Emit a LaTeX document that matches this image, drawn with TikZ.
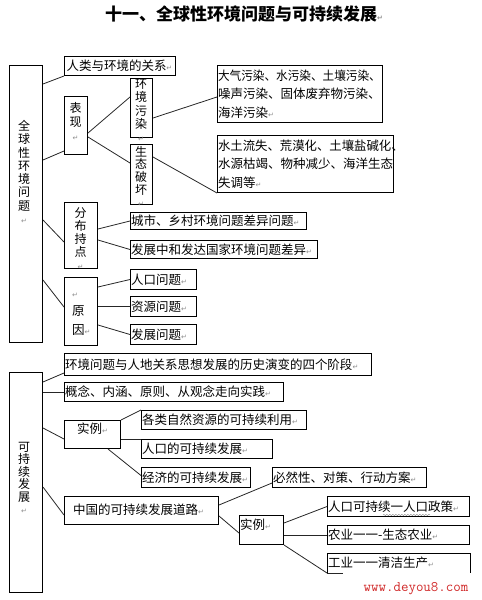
\documentclass[tikz,border=0pt]{standalone}
\usepackage{fontspec}
\usepackage{graphicx}
\setmainfont{Noto Sans CJK SC}
\newfontfamily\symf{DejaVu Sans}
\usetikzlibrary{decorations.pathmorphing}
\definecolor{wmred}{RGB}{208,40,40}
\newcommand\rt{{\symf\fontsize{7}{7}\selectfont\color{black!45}↵}}
\tikzset{
  hb/.style={draw, line width=1pt, anchor=north west, inner xsep=0.5pt, inner ysep=0pt,
    align=left, font=\fontsize{12.5}{18.5}\selectfont},
  eb/.style={draw, line width=1pt, anchor=north west, inner sep=0pt},
  vt/.style={anchor=north, inner sep=0pt, align=center, font=\fontsize{12}{13.3}\selectfont},
  tx/.style={inner sep=0pt, font=\fontsize{12.5}{18.5}\selectfont},
  ln/.style={line width=0.8pt, black!85},
}
\begin{document}
\begin{tikzpicture}[x=1pt,y=-1pt]
\useasboundingbox (0,0) rectangle (482,600);
% title
\node[anchor=west, inner sep=0pt, font=\bfseries\fontsize{17}{17}\selectfont] (title) at (105,14) {十一、全球性环境问题与可持续发展\rt};

% ---------- part 1 ----------
\node[eb, minimum width=33pt, minimum height=277pt] (G) at (9,65) {};
\node[vt] (Gt) at (24,120) {全\\球\\性\\环\\境\\问\\题\\\rt};

\node[hb, inner xsep=2pt, text width=107pt, minimum height=19pt] (rl) at (64,56) {人类与环境的关系\rt};

\node[eb, minimum width=23pt, minimum height=58pt] (bxian) at (64,96) {};
\node[vt, font=\fontsize{12}{14}\selectfont] (bxt) at (75.5,102) {表\\现\\\rt};

\node[eb, minimum width=22pt, minimum height=59pt] (hj) at (130,78) {};
\node[vt] (hjt) at (141,79) {环\\境\\污\\染\\\rt};
\node[eb, minimum width=22pt, minimum height=60pt] (st) at (130,144) {};
\node[vt, font=\fontsize{12}{12.6}\selectfont] (stt) at (141,146) {生\\态\\破\\坏\\\rt};

\node[hb, text width=164pt, minimum height=57pt] (dq) at (217,65)
  {\scalebox{0.93}[1]{大气污染、水污染、土壤污染、}\\噪声污染、固体废弃物污染、\\海洋污染\rt};
\node[hb, text width=175pt, minimum height=57pt] (sl) at (217,135)
  {\scalebox{0.99}[1]{水土流失、荒漠化、土壤盐碱化、}\\水源枯竭、物种减少、海洋生态\\失调等\rt};

\node[eb, minimum width=33pt, minimum height=66pt] (fb) at (64,202) {};
\node[vt, font=\fontsize{12}{13}\selectfont] (fbt) at (80.5,207) {分\\布\\持\\点\\\rt};
\node[hb, text width=175pt, minimum height=17pt] (cs) at (130,212) {城市、乡村环境问题差异问题\rt};
\node[hb, text width=186pt, minimum height=18pt] (fz) at (130,240) {发展中和发达国家环境问题差异\rt};

\node[eb, minimum width=33pt, minimum height=68pt] (yy) at (64,277) {};
\node[tx, anchor=north west, align=left] (yyt) at (72,287) {\rt\vphantom{原}\\原\\因\rt};
\node[hb, text width=65pt, minimum height=20pt] (rk) at (130,269) {人口问题\rt};
\node[hb, text width=65pt, minimum height=20pt] (zy) at (130,296) {资源问题\rt};
\node[hb, text width=65pt, minimum height=20pt] (fw) at (130,324) {发展问题\rt};

% ---------- part 2 ----------
\node[eb, minimum width=33pt, minimum height=220pt] (S) at (9,372) {};
\node[vt, font=\fontsize{12}{12.4}\selectfont] (St) at (24,442) {可\\持\\续\\发\\展\\\rt};

\node[hb, text width=306pt, minimum height=22pt] (ls) at (64,353) {环境问题与人地关系思想发展的历史演变的四个阶段\rt};
\node[hb, text width=218pt, minimum height=19pt] (gn) at (64,382) {概念、内涵、原则、从观念走向实践\rt};

\node[eb, minimum width=56pt, minimum height=28pt] (sli) at (64,420) {};
\node[tx, anchor=west] (slit) at (77,429) {实例\rt};
\node[hb, text width=164pt, minimum height=19pt] (gl) at (141,410) {各类自然资源的可持续利用\rt};
\node[hb, text width=130pt, minimum height=19pt] (rkk) at (141,439) {人口的可持续发展\rt};
\node[hb, text width=108pt, minimum height=20pt] (jj) at (141,467) {经济的可持续发展\rt};
\node[hb, text width=153pt, minimum height=20pt] (br) at (272,467) {必然性、对策、行动方案\rt};

\node[eb, minimum width=154pt, minimum height=28pt] (zg) at (64,496) {};
\node[tx, anchor=west] (zgt) at (73,510) {中国的可持续发展道路\rt};

\node[eb, minimum width=44pt, minimum height=29pt] (sl2) at (239,515) {};
\node[tx, anchor=west] (sl2t) at (240,525) {实例\rt};

\node[hb, text width=141pt, minimum height=20pt] (rkz) at (327,496) {人口可持续一人口政策\rt};
\node[hb, text width=141pt, minimum height=19pt] (ny) at (327,525) {农业一一-生态农业\rt};
\node[hb, draw=none, text width=141pt, minimum height=19pt] (gy) at (327,553) {工业一一清洁生产\rt};
\draw[line width=1pt] (gy.south west) -- (gy.north west) -- (gy.north east) -- (gy.south east);
\draw[ln] (gy.south west) -- ([xshift=16pt]gy.south west);

% wavy mark
\draw[black!45, line width=0.4pt, decorate, decoration={snake, amplitude=0.7pt, segment length=3pt}]
  ([xshift=56pt, yshift=2pt]rkz.south west) -- ([xshift=103pt, yshift=2pt]rkz.south west);

% watermark
\node[inner sep=0pt, font=\ttfamily\fontsize{14.5}{14.5}\selectfont, text=wmred] (wm) at (416,589) {www.deyou8.com};

% ---------- connectors ----------
\draw[ln] ([yshift=-19pt]G.north east) -- (rl.south west);
\draw[ln] ([yshift=-95pt]G.north east) -- ([yshift=4pt]bxian.south west);
\draw[ln] ([yshift=-37pt]bxian.north east) -- ([yshift=-19pt]hj.north west);
\draw[ln] ([yshift=-41pt]bxian.north east) -- ([yshift=-19pt]st.north west);
\draw[ln] ([yshift=-40pt]hj.north east) -- ([yshift=-32pt]dq.north west);
\draw[ln] ([yshift=-13pt]st.north east) -- (sl.south west);
\draw[ln] ([yshift=-155pt]G.north east) -- ([yshift=-40pt]fb.north west);
\draw[ln] ([yshift=-27pt]fb.north east) -- (cs.west);
\draw[ln] ([yshift=-38pt]fb.north east) -- (fz.west);
\draw[ln] ([yshift=-215pt]G.north east) -- ([yshift=-30pt]yy.north west);
\draw[ln] ([yshift=-10pt]yy.north east) -- (rk.west);
\draw[ln] (yy.east |- zy.west) -- (zy.west);
\draw[ln] ([yshift=-48pt]yy.north east) -- (fw.west);

\draw[ln] ([yshift=-10pt]S.north east) -- ([yshift=-20pt]ls.north west);
\draw[ln] (S.east |- gn.west) -- (gn.west);
\draw[ln] ([yshift=-56pt]S.north east) -- ([yshift=-19pt]sli.north west);
\draw[ln] (sli.north east) -- (gl.north west);
\draw[ln] (sli.east |- rkk.north west) -- (rkk.north west);
\draw[ln] ([xshift=-13pt]sli.south east) -- ([yshift=2pt]jj.west);
\draw[ln] ([yshift=-115pt]S.north east) -- ([yshift=-19pt]zg.north west);
\draw[ln] ([yshift=-9pt]zg.north east) -- ([yshift=-16pt]br.north west);
\draw[ln] ([yshift=-20pt]zg.north east) -- ([yshift=-18pt]sl2.north west);
\draw[ln] ([yshift=-8pt]sl2.north east) -- (rkz.west);
\draw[ln] (sl2.east |- ny.west) -- (ny.west);
\draw[ln] (sl2.south east) -- (gy.south west);
\end{tikzpicture}
\end{document}
